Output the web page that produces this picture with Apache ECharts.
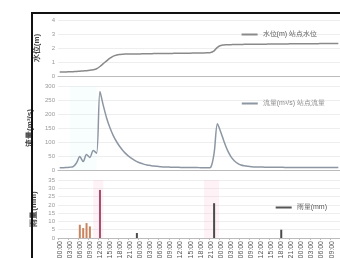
<!DOCTYPE html>
<html>
<head>
<meta charset="utf-8">
<script src="https://cdn.jsdelivr.net/npm/echarts@6/dist/echarts.min.js"></script>
<style>
  body { margin: 0; background: #fff; }
  #main { width: 340px; height: 258px; }
  .frame {
    position: absolute; left: 31px; top: 12px; width: 309px; height: 246px;
    border-left: 2px solid #111; border-top: 2px solid #111; pointer-events: none;
  }
</style>
</head>
<body>
<div id="main"></div>
<div class="frame"></div>
<script>
// 时间轴（逐时）
var hours = [];
for (var d = 0; d < 84; d++) {
  var day = 30 + Math.floor(d / 24);
  var mon = day > 30 ? "07" : "06";
  var dd = day > 30 ? "0" + (day - 30) : "30";
  var hh = d % 24 < 10 ? "0" + (d % 24) : "" + (d % 24);
  hours.push(mon + "-" + dd + " " + hh + ":00");
}

// 水位
var waterLevel = [
  0.28, 0.28, 0.29, 0.30, 0.31, 0.32, 0.34, 0.36, 0.38, 0.41,
  0.45, 0.52, 0.68, 0.88, 1.08, 1.27, 1.42, 1.50, 1.54, 1.56,
  1.57, 1.57, 1.58, 1.58, 1.58, 1.59, 1.59, 1.59, 1.60, 1.60,
  1.60, 1.61, 1.61, 1.61, 1.62, 1.62, 1.62, 1.63, 1.63, 1.63,
  1.64, 1.64, 1.65, 1.65, 1.66, 1.68, 1.80, 2.05, 2.18, 2.22,
  2.24, 2.24, 2.25, 2.25, 2.25, 2.26, 2.26, 2.26, 2.27, 2.27,
  2.27, 2.27, 2.28, 2.28, 2.28, 2.29, 2.29, 2.29, 2.29, 2.30,
  2.30, 2.30, 2.30, 2.31, 2.31, 2.31, 2.31, 2.31, 2.32, 2.32,
  2.32, 2.32, 2.32, 2.32
];

// 流量
var flow = [
  8, 8, 9, 10, 12, 25, 48, 30, 55, 45,
  70, 60, 280, 230, 185, 150, 122, 100, 82, 67,
  55, 45, 37, 30, 25, 21, 18, 16, 14, 13,
  12, 11, 11, 10, 10, 10, 9, 9, 9, 9,
  9, 9, 8, 8, 8, 10, 60, 165, 135, 100,
  70, 48, 33, 24, 18, 15, 13, 12, 11, 11,
  11, 10, 10, 10, 10, 10, 10, 9, 9, 9,
  9, 9, 9, 9, 9, 9, 9, 9, 9, 9,
  9, 9, 9, 9
];

// 雨量
var rain = [
  0, 0, 0, 0, 0, 0, 8, 6, 9, 7,
  0, 0, 29, 0, 0, 0, 0, 0, 0, 0,
  0, 0, 0, 3, 0, 0, 0, 0, 0, 0,
  0, 0, 0, 0, 0, 0, 0, 0, 0, 0,
  0, 0, 0, 0, 0, 0, 21, 0, 0, 0,
  0, 0, 0, 0, 0, 0, 0, 0, 0, 0,
  0, 0, 0, 0, 0, 0, 5, 0, 0, 0,
  0, 0, 0, 0, 0, 0, 0, 0, 0, 0,
  0, 0, 0, 0
];

var chart = echarts.init(document.getElementById("main"));

var tickLabel = { fontSize: 6, color: "#999", margin: 3 };
var split = { lineStyle: { color: "#eee" } };
function yName(name) {
  return {
    name: name, nameLocation: "middle", nameRotate: 90, nameGap: 11,
    nameTextStyle: { fontSize: 8, fontWeight: "bold", color: "#444" }
  };
}

var option = {
  animation: false,
  legend: [
    { data: ["水位(m) 站点水位"], right: 18, top: 26, icon: "rect", itemWidth: 16, itemHeight: 2,
      textStyle: { fontSize: 7, color: "#555" } },
    { data: ["流量(m³/s) 站点流量"], right: 10, top: 95, icon: "rect", itemWidth: 16, itemHeight: 2,
      textStyle: { fontSize: 7, color: "#888" } },
    { data: [{ name: "雨量(mm)", itemStyle: { color: "#555" } }], right: 8, top: 199,
      icon: "rect", itemWidth: 16, itemHeight: 2,
      textStyle: { fontSize: 7, color: "#555" } }
  ],
  grid: [
    { left: 58, right: 0, top: 20, height: 56, outerBoundsMode: "none" },
    { left: 58, right: 0, top: 86, height: 84, outerBoundsMode: "none" },
    { left: 58, right: 0, top: 180, height: 58, outerBoundsMode: "none" }
  ],
  xAxis: [0, 1, 2].map(function (i) {
    return {
      type: "category", gridIndex: i, data: hours, boundaryGap: true,
      axisLine: { lineStyle: { color: "#bbb" } },
      axisTick: { show: i === 2, interval: 2, length: 2 },
      axisLabel: i === 2
        ? { interval: 2, rotate: 90, fontSize: 7, color: "#555", margin: 3 }
        : { show: false }
    };
  }),
  yAxis: [
    Object.assign({ type: "value", gridIndex: 0, min: 0, max: 4, interval: 1,
      axisLabel: tickLabel, splitLine: split }, yName("水位(m)")),
    Object.assign({ type: "value", gridIndex: 1, min: 0, max: 300, interval: 50,
      axisLabel: tickLabel, splitLine: split }, yName("流量(m³/s)")),
    Object.assign({ type: "value", gridIndex: 2, min: 0, max: 35, interval: 5,
      axisLabel: tickLabel, splitLine: split }, yName("雨量(mm)"))
  ],
  series: [
    {
      name: "水位(m) 站点水位", type: "line", xAxisIndex: 0, yAxisIndex: 0,
      data: waterLevel, symbol: "none", smooth: true,
      lineStyle: { color: "#8a8a8a", width: 1.5 }, itemStyle: { color: "#8a8a8a" }
    },
    {
      name: "流量(m³/s) 站点流量", type: "line", xAxisIndex: 1, yAxisIndex: 1,
      data: flow, symbol: "none", smooth: 0.3,
      lineStyle: { color: "#8d97a3", width: 1.5 }, itemStyle: { color: "#8d97a3" },
      markArea: {
        silent: true,
        itemStyle: { color: "rgba(200,238,245,0.12)" },
        data: [[{ xAxis: hours[3] }, { xAxis: hours[11] }]]
      }
    },
    {
      name: "雨量(mm)", type: "bar", xAxisIndex: 2, yAxisIndex: 2,
      data: rain, barWidth: 2,
      itemStyle: {
        color: function (p) {
          if (p.value >= 25) return "#a34d6d";
          if (p.dataIndex < 20) return "#c9855f";
          return "#4a4a4a";
        }
      },
      markArea: {
        silent: true,
        itemStyle: { color: "rgba(255,190,210,0.2)" },
        data: [
          [{ xAxis: hours[11] }, { xAxis: hours[13] }],
          [{ xAxis: hours[44] }, { xAxis: hours[47] }]
        ]
      }
    }
  ]
};

chart.setOption(option);
</script>
</body>
</html>
